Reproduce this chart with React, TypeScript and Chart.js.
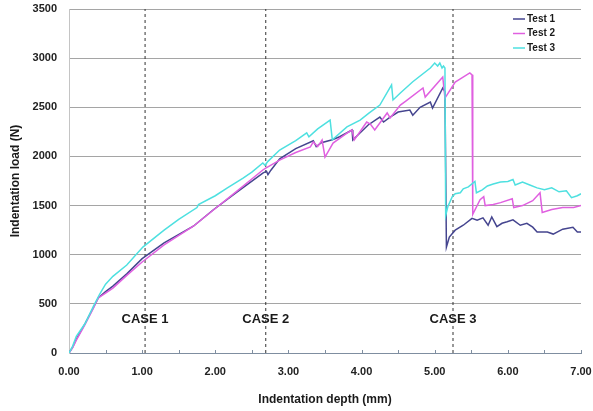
import { useEffect, useRef } from 'react';
import { Chart, registerables } from 'chart.js';

Chart.register(...registerables);

const seriesNames = ['Test 1', 'Test 2', 'Test 3'];
const seriesColors = ['#45458f', '#e060e0', '#4ee0e0'];

const test1Depth = [0, 0.05, 0.1, 0.22, 0.33, 0.4, 0.5, 0.6, 0.79, 1.0, 1.3, 1.7, 1.97, 2.3, 2.65, 2.7, 2.72, 2.76, 2.88, 3.1, 3.34, 3.38, 3.45, 3.6, 3.7, 3.87, 3.88, 4.09, 4.25, 4.3, 4.39, 4.5, 4.66, 4.7, 4.8, 4.94, 4.97, 5.11, 5.14, 5.16, 5.2, 5.28, 5.39, 5.51, 5.58, 5.66, 5.73, 5.78, 5.85, 5.92, 5.99, 6.07, 6.17, 6.26, 6.34, 6.4, 6.54, 6.62, 6.75, 6.89, 6.95, 7.0];
const test1Load = [0, 60, 140, 300, 458, 560, 625, 680, 805, 960, 1120, 1290, 1455, 1640, 1831, 1850, 1815, 1860, 1975, 2080, 2160, 2100, 2140, 2170, 2200, 2269, 2167, 2320, 2400, 2350, 2400, 2452, 2472, 2420, 2500, 2554, 2492, 2696, 2660, 1078, 1180, 1250, 1300, 1370, 1350, 1375, 1300, 1385, 1285, 1320, 1335, 1355, 1300, 1320, 1280, 1230, 1230, 1210, 1260, 1280, 1230, 1230];

const test2Depth = [0, 0.05, 0.1, 0.22, 0.33, 0.4, 0.5, 0.6, 0.79, 1.0, 1.3, 1.7, 2.0, 2.3, 2.65, 2.69, 2.88, 3.1, 3.3, 3.34, 3.4, 3.46, 3.5, 3.61, 3.8, 3.87, 3.9, 4.07, 4.12, 4.18, 4.35, 4.39, 4.53, 4.6, 4.84, 4.87, 5.11, 5.14, 5.28, 5.35, 5.48, 5.51, 5.52, 5.62, 5.67, 5.69, 5.8, 5.9, 6.06, 6.08, 6.2, 6.34, 6.44, 6.47, 6.6, 6.75, 6.9, 7.0];
const test2Load = [0, 55, 130, 290, 450, 560, 610, 660, 790, 926, 1100, 1290, 1470, 1650, 1862, 1882, 1963, 2040, 2096, 2147, 2100, 2167, 1994, 2136, 2238, 2269, 2167, 2350, 2330, 2269, 2442, 2391, 2523, 2560, 2696, 2604, 2808, 2594, 2757, 2790, 2849, 2830, 1410, 1560, 1590, 1500, 1510, 1530, 1570, 1480, 1500, 1550, 1630, 1430, 1460, 1480, 1480, 1500];

const test3Depth = [0, 0.05, 0.1, 0.22, 0.33, 0.42, 0.5, 0.6, 0.79, 1.01, 1.3, 1.5, 1.75, 1.77, 2.0, 2.16, 2.38, 2.5, 2.65, 2.68, 2.72, 2.88, 3.1, 3.25, 3.28, 3.4, 3.57, 3.6, 3.8, 3.98, 4.1, 4.25, 4.41, 4.43, 4.53, 4.7, 4.94, 5.0, 5.04, 5.07, 5.1, 5.12, 5.14, 5.15, 5.18, 5.24, 5.28, 5.35, 5.39, 5.46, 5.55, 5.57, 5.65, 5.72, 5.8, 5.9, 6.0, 6.07, 6.1, 6.2, 6.3, 6.4, 6.5, 6.6, 6.7, 6.8, 6.87, 6.95, 7.0];
const test3Load = [0, 70, 170, 300, 470, 600, 700, 780, 895, 1078, 1250, 1360, 1480, 1510, 1600, 1678, 1780, 1840, 1933, 1910, 1950, 2065, 2160, 2240, 2200, 2280, 2370, 2170, 2300, 2370, 2440, 2523, 2727, 2574, 2645, 2760, 2900, 2950, 2920, 2950, 2900, 2920, 2900, 1400, 1490, 1590, 1620, 1630, 1670, 1690, 1745, 1630, 1660, 1700, 1720, 1740, 1745, 1765, 1710, 1740, 1710, 1680, 1660, 1680, 1640, 1650, 1580, 1600, 1620];

const caseDepths = [1.04, 2.69, 5.25];
const caseLabels = ['CASE 1', 'CASE 2', 'CASE 3'];
const caseLabelLoad = 340;

const depthTicks = [0, 1, 2, 3, 4, 5, 6, 7];
const loadTicks = [0, 500, 1000, 1500, 2000, 2500, 3000, 3500];

const FONT = '"Liberation Sans", Arial, sans-serif';

const toPoints = (xs: number[], ys: number[]) => xs.map((x, i) => ({ x, y: ys[i] }));

const overlayPlugin = {
  id: 'overlay',
  afterDraw(chart: any) {
    const { ctx, chartArea, scales } = chart;
    const x = scales.x;
    const y = scales.y;
    ctx.save();
    ctx.strokeStyle = '#7f8ea0';
    ctx.lineWidth = 1;
    for (let v = 0.5; v <= 7.0001; v += 0.5) {
      const px = Math.round(x.getPixelForValue(v)) + 0.5;
      ctx.beginPath();
      ctx.moveTo(px, chartArea.bottom);
      ctx.lineTo(px, chartArea.bottom - 3);
      ctx.stroke();
    }
    ctx.font = 'bold 13px ' + FONT;
    ctx.fillStyle = '#1a1a1a';
    ctx.textAlign = 'center';
    ctx.textBaseline = 'middle';
    caseDepths.forEach((d, i) => {
      ctx.fillText(caseLabels[i], x.getPixelForValue(d), y.getPixelForValue(caseLabelLoad));
    });
    ctx.font = 'bold 10px ' + FONT;
    ctx.textAlign = 'left';
    const rows = [10, 24.5, 39];
    seriesNames.forEach((name, i) => {
      const yy = chartArea.top + rows[i];
      ctx.strokeStyle = seriesColors[i];
      ctx.lineWidth = 1.5;
      ctx.beginPath();
      ctx.moveTo(chartArea.right - 68, yy);
      ctx.lineTo(chartArea.right - 56, yy);
      ctx.stroke();
      ctx.fillStyle = '#1a1a1a';
      ctx.fillText(name, chartArea.right - 54, yy);
    });
    ctx.restore();
  },
};

export default function App() {
  const canvasRef = useRef<HTMLCanvasElement | null>(null);

  useEffect(() => {
    if (!canvasRef.current) return;
    const lines = [
      toPoints(test1Depth, test1Load),
      toPoints(test2Depth, test2Load),
      toPoints(test3Depth, test3Load),
    ];
    const datasets: any[] = lines.map((pts, i) => ({
      label: seriesNames[i],
      data: pts,
      borderColor: seriesColors[i],
      backgroundColor: seriesColors[i],
      borderWidth: 1.5,
      pointRadius: 0,
      tension: 0,
      order: 3 - i,
    }));
    caseDepths.forEach((d, i) => {
      datasets.push({
        label: caseLabels[i],
        data: [
          { x: d, y: loadTicks[0] },
          { x: d, y: loadTicks[loadTicks.length - 1] },
        ],
        borderColor: '#333333',
        borderWidth: 1,
        borderDash: [3, 3],
        pointRadius: 0,
        order: 10,
      });
    });

    const chart = new Chart(canvasRef.current, {
      type: 'line',
      data: { datasets },
      options: {
        animation: false,
        responsive: true,
        maintainAspectRatio: false,
        layout: { padding: { top: 9, right: 12, left: 0, bottom: 0 } },
        plugins: { legend: { display: false }, tooltip: { enabled: false } },
        scales: {
          x: {
            type: 'linear',
            min: depthTicks[0],
            max: depthTicks[depthTicks.length - 1],
            afterFit: (s: any) => { s.height = 58; s.paddingLeft = 0; s.paddingRight = 0; },
            afterBuildTicks: (s: any) => { s.ticks = depthTicks.map((v) => ({ value: v })); },
            ticks: {
              padding: 12,
              color: '#222',
              font: { family: FONT, size: 11, weight: 'bold' },
              callback: (v: any) => Number(v).toFixed(2),
              maxRotation: 0,
            },
            grid: { display: false, drawTicks: false },
            border: { display: true, color: '#7f8ea0', width: 1 },
            title: {
              display: true,
              text: 'Indentation depth (mm)',
              color: '#1a1a1a',
              font: { family: FONT, size: 12, weight: 'bold' },
              padding: { top: 0, bottom: 4 },
            },
          },
          y: {
            min: loadTicks[0],
            max: loadTicks[loadTicks.length - 1],
            afterFit: (s: any) => { s.width = 69; s.paddingTop = 0; s.paddingBottom = 0; },
            afterBuildTicks: (s: any) => { s.ticks = loadTicks.map((v) => ({ value: v })); },
            ticks: {
              padding: 12,
              color: '#222',
              font: { family: FONT, size: 11, weight: 'bold' },
              callback: (v: any) => String(v),
            },
            grid: { color: '#a5a5a5', lineWidth: 1, drawTicks: false },
            border: { display: true, color: '#c4c4c4', width: 1 },
            title: {
              display: true,
              text: 'Indentation load (N)',
              color: '#1a1a1a',
              font: { family: FONT, size: 12, weight: 'bold' },
              padding: { top: 8, bottom: 0 },
            },
          },
        },
      },
      plugins: [overlayPlugin],
    });
    return () => chart.destroy();
  }, []);

  return (
    <div style={{ position: 'absolute', left: 0, top: 0, width: 593, height: 411, background: '#fff' }}>
      <canvas ref={canvasRef} />
    </div>
  );
}
